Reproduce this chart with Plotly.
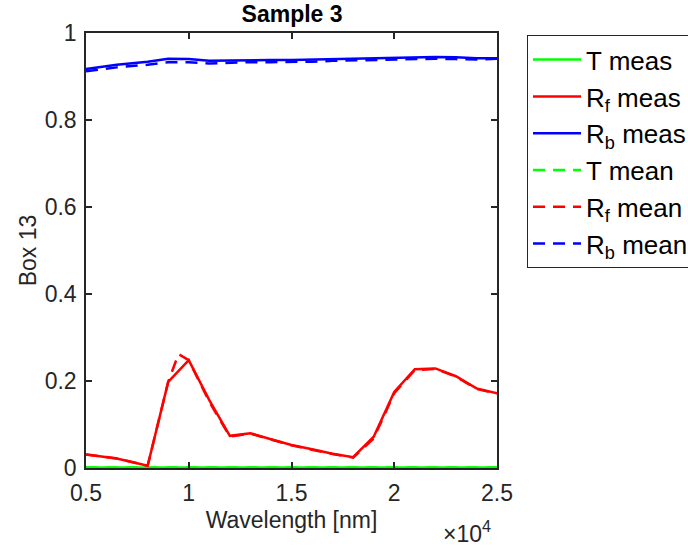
import plotly.graph_objects as go

# wavelength grids [nm]
wl = [5000, 6500, 8000, 9000, 10000, 11000, 12000, 13000, 14000, 15000, 16000,
      17000, 18000, 19000, 20000, 21000, 22000, 23000, 24000, 25000]
wl_mean = [5000, 6500, 8000, 9000, 9500, 10000, 11000, 12000, 13000, 14000, 15000, 16000,
           17000, 18000, 19000, 20000, 21000, 22000, 23000, 24000, 25000]

t_meas = [0.001] * len(wl)
rf_meas = [0.031, 0.022, 0.005, 0.198, 0.248, 0.156, 0.074, 0.080, 0.066, 0.053, 0.043,
           0.033, 0.025, 0.072, 0.175, 0.227, 0.229, 0.211, 0.183, 0.172]
rb_meas = [0.917, 0.927, 0.934, 0.941, 0.940, 0.936, 0.937, 0.938, 0.938, 0.938, 0.939,
           0.941, 0.942, 0.943, 0.944, 0.944, 0.945, 0.944, 0.942, 0.942]

t_mean = [0.001] * len(wl_mean)
rf_mean = [0.031, 0.022, 0.005, 0.198, 0.262, 0.248, 0.152, 0.072, 0.079, 0.065, 0.052, 0.042,
           0.032, 0.024, 0.068, 0.172, 0.225, 0.228, 0.210, 0.182, 0.171]
rb_mean = [0.912, 0.921, 0.927, 0.933, 0.933, 0.933, 0.930, 0.932, 0.933, 0.933, 0.933, 0.934,
           0.936, 0.937, 0.939, 0.940, 0.941, 0.941, 0.940, 0.939, 0.941]

xticks = [5000, 10000, 15000, 20000, 25000]
xtick_text = ['0.5', '1', '1.5', '2', '2.5']
yticks = [0, 0.2, 0.4, 0.6, 0.8, 1]
ytick_text = ['0', '0.2', '0.4', '0.6', '0.8', '1']

GREEN, RED, BLUE = '#00ff00', '#ff0000', '#0000ff'
INK = '#262626'
DASH = '12px,8px'
FS = 23

fig = go.Figure()
fig.add_trace(go.Scatter(x=wl, y=t_meas, mode='lines', name='T meas',
                         line=dict(color=GREEN, width=2.5)))
fig.add_trace(go.Scatter(x=wl, y=rf_meas, mode='lines', name='R<sub>f</sub> meas',
                         line=dict(color=RED, width=2.5)))
fig.add_trace(go.Scatter(x=wl, y=rb_meas, mode='lines', name='R<sub>b</sub> meas',
                         line=dict(color=BLUE, width=2.5)))
fig.add_trace(go.Scatter(x=wl_mean, y=t_mean, mode='lines', name='T mean',
                         line=dict(color=GREEN, width=2.5, dash=DASH)))
fig.add_trace(go.Scatter(x=wl_mean, y=rf_mean, mode='lines', name='R<sub>f</sub> mean',
                         line=dict(color=RED, width=2.5, dash=DASH)))
fig.add_trace(go.Scatter(x=wl_mean, y=rb_mean, mode='lines', name='R<sub>b</sub> mean',
                         line=dict(color=BLUE, width=2.5, dash=DASH)))

axis_common = dict(showline=True, linecolor=INK, linewidth=1.5, mirror='ticks',
                   ticks='inside', ticklen=6, tickcolor=INK, tickwidth=1.5,
                   showgrid=False, zeroline=False,
                   tickfont=dict(size=FS, color=INK))

fig.update_xaxes(range=[5000, 25000], tickvals=xticks, ticktext=xtick_text,
                 ticklabelstandoff=4,
                 title=dict(text='Wavelength [nm]', font=dict(size=FS, color=INK), standoff=7),
                 **axis_common)
fig.update_yaxes(range=[0, 1], tickvals=yticks, ticktext=ytick_text,
                 ticklabelstandoff=3,
                 title=dict(text='Box 13', font=dict(size=FS, color=INK), standoff=2),
                 **axis_common)

fig.add_annotation(text='\u00d710<sup>4</sup>', xref='paper', yref='paper',
                   x=0.99, y=-0.148, xanchor='right', yanchor='middle', showarrow=False,
                   font=dict(size=FS, color=INK))

fig.update_layout(
    width=688, height=548,
    margin=dict(l=86, r=191, t=33, b=80, autoexpand=False),
    paper_bgcolor='white', plot_bgcolor='white',
    font=dict(family='Liberation Sans, Arial, sans-serif', color=INK),
    showlegend=True,
    title=dict(text='<b>Sample 3</b>', x=0.4245, xanchor='center', y=0.975, yanchor='middle',
               font=dict(size=FS, color='black')),
    legend=dict(x=1.073, y=0.995, xanchor='left', yanchor='top',
                bordercolor=INK, borderwidth=1, bgcolor='white', itemwidth=48,
                font=dict(size=26, color='black'), tracegroupgap=0),
)

fig.write_html("out.html", config={'displayModeBar': False},
               post_script="document.body.style.margin='0';")
